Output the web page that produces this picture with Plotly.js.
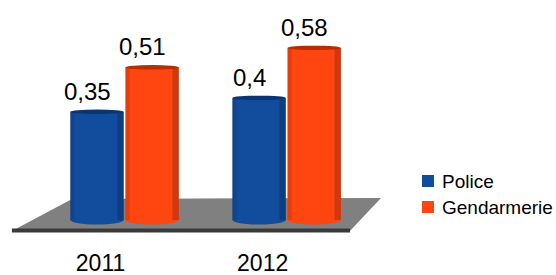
<!DOCTYPE html>
<html>
<head>
<meta charset="utf-8">
<script src="https://cdn.plot.ly/plotly-3.0.1.min.js"></script>
<style>html,body{margin:0;padding:0;background:#fff;}#chart{width:556px;height:275px;}</style>
</head>
<body>
<div id="chart"></div>
<script>
// ---- data ----
const years = ['2011', '2012'];
const seriesNames = ['Police', 'Gendarmerie'];
const policeValues = [0.35, 0.40];
const gendarmerieValues = [0.51, 0.58];
const seriesColors = ['#124c9c', '#ff4510'];
const seriesEdge = ['#0b3470', '#b82c00'];

// ---- style constants ----
const FONT = 'Liberation Sans, Arial, sans-serif';
const W = 556, H = 275;
const M = {l: 3, r: 164, t: 9, b: 41};
const depth = 0.04;          // how far cylinders sink below the zero plane (perspective)
const bargap = 0.32, bargroupgap = 0.03;
const idx = years.map((_, i) => i);
const allSeries = [policeValues, gendarmerieValues];
const slot = (1 - bargap) / 2;
const barW = slot * (1 - bargroupgap);
const offsets = [-slot / 2, slot / 2];
// pixel -> paper helpers for the hand-placed legend
const pxX = px => (px - M.l) / (W - M.l - M.r);
const pxY = py => (H - M.b - py) / (H - M.t - M.b);

const traces = allSeries.map((vals, s) => ({
  type: 'bar',
  name: seriesNames[s],
  x: idx,
  y: vals.map(v => v + depth),
  base: vals.map(() => -depth),
  marker: {color: seriesColors[s], line: {width: 0}},
  hoverinfo: 'skip',
  showlegend: false
}));

const shapes = [];
// floor
shapes.push({
  type: 'path', xref: 'x', yref: 'y', layer: 'below',
  path: 'M -0.324 0.036 L 1.582 0.040 L 1.391 -0.079 L -0.695 -0.079 Z',
  fillcolor: '#808080', line: {width: 0}
});
shapes.push({
  type: 'line', xref: 'x', yref: 'y', layer: 'below',
  x0: -0.695, y0: -0.077, x1: 1.391, y1: -0.077,
  line: {color: '#3a3a3a', width: 4}
});
// cylinder shading and ends
allSeries.forEach((vals, s) => {
  vals.forEach((v, i) => {
    const cx = i + offsets[s];
    const x0 = cx - barW / 2, x1 = cx + barW / 2;
    shapes.push({
      type: 'circle', xref: 'x', yref: 'y', layer: 'below',
      x0: x0, x1: x1, y0: -depth - 0.016, y1: -depth + 0.016,
      fillcolor: seriesColors[s], line: {width: 0}
    });
    shapes.push({
      type: 'rect', xref: 'x', yref: 'y', layer: 'above',
      x0: x1 - barW * 0.12, x1: x1, y0: -depth, y1: v,
      fillcolor: 'rgba(0,0,0,0.18)', line: {width: 0}
    });
    shapes.push({
      type: 'rect', xref: 'x', yref: 'y', layer: 'above',
      x0: x0, x1: x0 + barW * 0.08, y0: -depth, y1: v,
      fillcolor: 'rgba(0,0,0,0.10)', line: {width: 0}
    });
    shapes.push({
      type: 'circle', xref: 'x', yref: 'y', layer: 'above',
      x0: x0, x1: x1, y0: v - 0.008, y1: v + 0.008,
      fillcolor: seriesEdge[s], line: {width: 0}
    });
  });
});

const annotations = [];
allSeries.forEach((vals, s) => {
  vals.forEach((v, i) => {
    annotations.push({
      x: i + offsets[s], y: v, xref: 'x', yref: 'y',
      text: String(v).replace('.', ','),
      showarrow: false, yanchor: 'bottom', xanchor: 'center',
      xshift: -10, yshift: 5,
      font: {family: FONT, size: 24, color: '#000'}
    });
  });
});

// legend (drawn by hand to match the tight spacing of the original)
seriesNames.forEach((name, s) => {
  const cy = 181 + s * 26;
  shapes.push({
    type: 'rect', xref: 'paper', yref: 'paper',
    x0: pxX(422), x1: pxX(434), y0: pxY(cy + 6), y1: pxY(cy - 6),
    fillcolor: seriesColors[s], line: {width: 0}
  });
  annotations.push({
    xref: 'paper', yref: 'paper', x: pxX(440), y: pxY(cy),
    xanchor: 'left', yanchor: 'middle', showarrow: false,
    text: name, font: {family: FONT, size: 19, color: '#000'}
  });
});

const layout = {
  width: W, height: H,
  margin: Object.assign({autoexpand: false}, M),
  paper_bgcolor: '#fff', plot_bgcolor: '#fff',
  barmode: 'group', bargap: bargap, bargroupgap: bargroupgap,
  showlegend: false,
  xaxis: {
    range: [-0.75, 1.65], tickvals: idx, ticktext: years,
    showgrid: false, zeroline: false, showline: false, ticks: '',
    ticklabelshift: -24, ticklabelstandoff: 13,
    tickfont: {family: FONT, size: 23, color: '#000'}, fixedrange: true
  },
  yaxis: {
    range: [-0.09, 0.72], visible: false, showgrid: false, zeroline: false, fixedrange: true
  },
  shapes: shapes,
  annotations: annotations
};

Plotly.newPlot('chart', traces, layout, {displayModeBar: false, staticPlot: true});
</script>
</body>
</html>
